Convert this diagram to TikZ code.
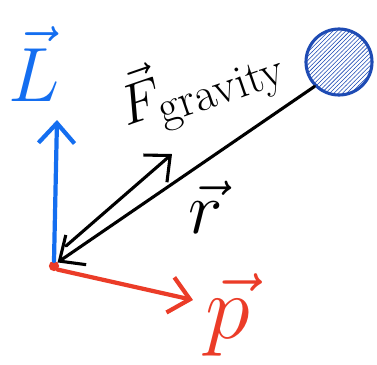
\documentclass[tikz,border=0pt]{standalone}
\usepackage{amsmath}
\usetikzlibrary{arrows.meta,patterns}

\definecolor{lblue}{RGB}{20,110,240}
\definecolor{sphblue}{RGB}{30,75,180}
\definecolor{pred}{RGB}{235,60,40}

\tikzset{
    handlbl/.style={font=\Huge, inner sep=1pt},
}

\begin{document}
\begin{tikzpicture}[x=0.025cm,y=-0.025cm,>={Straight Barb[length=5mm,width=9mm]},line cap=round]
        \useasboundingbox (0,0) rectangle (377,364);

        \node (O) [circle, draw=pred, fill=pred, line width=1.5pt, minimum size=2mm, inner sep=0pt] at (54,266) {};
        \node (mass) [circle, draw=sphblue, line width=2.2pt, minimum size=16.5mm, inner sep=0pt, pattern=north east lines, pattern color=sphblue] at (339,62) {};

        \coordinate (Ltip) at (57,120);
        \coordinate (ptip) at (193,300);
        \coordinate (Fstart) at (66,246);
        \coordinate (Fend) at (172,154);

        \draw[->, lblue, line width=3pt] (O.north) -- (Ltip);
        \draw[->, pred, line width=3pt] (O.south east) -- (ptip);
        \draw[->, black, line width=2.2pt] (Fstart) -- (Fend);
        \draw[<-, black, line width=2.2pt] (O.north east) -- (mass.south west);

        \node (Llabel) [handlbl, lblue, scale=2.2] at (34,64) {$\vec{L}$};
        \node (plabel) [handlbl, pred, scale=2.6] at (228,315) {$\vec{p}$};
        \node (rlabel) [handlbl, black, scale=2.1] at (206,207) {$\vec{r}$};
        \node (Flabel) [handlbl, black, scale=1.6, rotate=19] at (200,83) {$\vec{F}_{\text{gravity}}$};
    \end{tikzpicture}
\end{document}
